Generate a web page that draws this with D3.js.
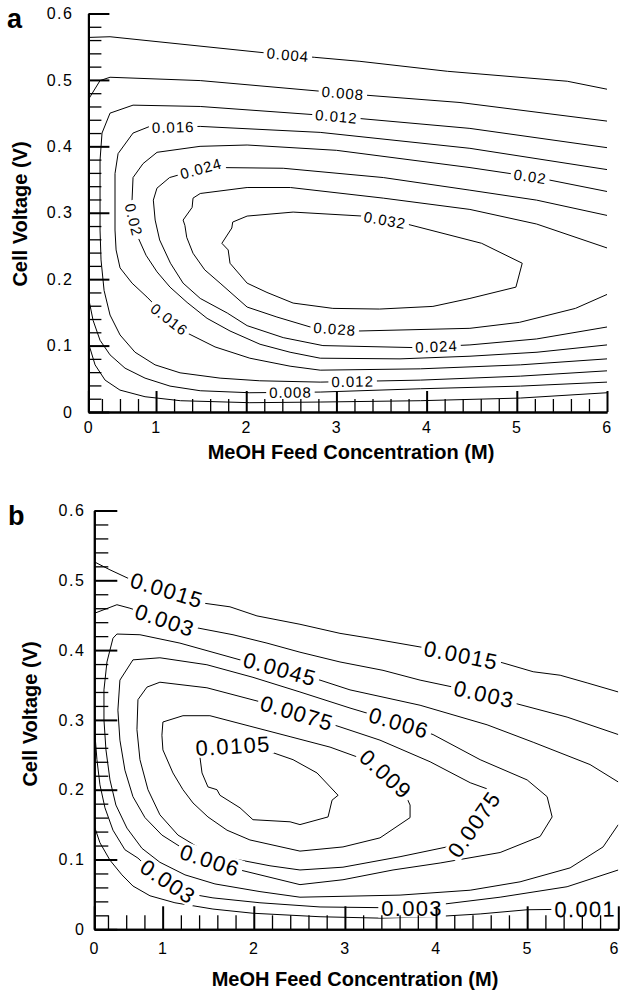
<!DOCTYPE html>
<html><head><meta charset="utf-8">
<script src="https://cdn.jsdelivr.net/npm/d3@7"></script>
<style>
body{margin:0;background:#fff}
svg{display:block}
text{font-family:"Liberation Sans",Arial,Helvetica,sans-serif}
</style>
</head><body>
<svg id="chart" width="622" height="990"></svg>
<script>
// ---------------- shared axis data ----------------
const xDomain = [0.25, 6];
const yDomain = [0, 0.6];
const xTickValues = [0, 1, 2, 3, 4, 5, 6];
const xTickLabels = ["0", "1", "2", "3", "4", "5", "6"];
const yTickValues = [0, 0.1, 0.2, 0.3, 0.4, 0.5, 0.6];
const yTickLabels = ["0", "0.1", "0.2", "0.3", "0.4", "0.5", "0.6"];
const xTitle = "MeOH Feed Concentration (M)";
const yTitle = "Cell Voltage (V)";

// ---------------- panel a: contour lines [conc (M), voltage (V)] ----------------
const a004Top = [[0.257,0.564],[0.49,0.565],[2.19,0.541],[2.76,0.534],[3.26,0.528],[4.23,0.513],[5.56,0.498],[6.0,0.486]];
const a004Bottom = [[0.257,0.101],[0.324,0.071],[0.435,0.048],[0.60,0.033],[0.878,0.023],[1.27,0.017],[2.04,0.014],[2.82,0.015],[3.93,0.017],[5.04,0.021],[6.0,0.029]];
const a008Top = [[0.257,0.472],[0.379,0.499],[0.49,0.504],[1.49,0.499],[2.82,0.483],[3.33,0.477],[4.37,0.466],[6.0,0.438]];
const a008Bottom = [[0.257,0.168],[0.302,0.138],[0.379,0.108],[0.49,0.086],[0.656,0.066],[0.878,0.051],[1.155,0.039],[1.49,0.032],[2.04,0.029],[2.82,0.030],[3.93,0.035],[5.04,0.039],[6.0,0.045]];
const a012 = [[6.0,0.398],[4.48,0.427],[3.0,0.445],[2.82,0.447],[1.49,0.460],[0.745,0.462],[0.49,0.450],[0.401,0.420],[0.379,0.379],[0.379,0.274],[0.39,0.229],[0.424,0.183],[0.49,0.146],[0.601,0.116],[0.767,0.090],[0.989,0.071],[1.266,0.059],[1.71,0.051],[2.15,0.047],[2.82,0.045],[3.93,0.048],[5.04,0.054],[6.0,0.062]];
const a016 = [[6.0,0.365],[4.48,0.397],[2.82,0.421],[1.49,0.430],[1.19,0.429],[0.967,0.432],[0.745,0.420],[0.579,0.389],[0.545,0.359],[0.545,0.274],[0.557,0.244],[0.601,0.217],[0.734,0.194],[0.90,0.173],[1.133,0.141],[1.344,0.119],[1.654,0.098],[2.04,0.081],[2.486,0.069],[2.82,0.063],[3.93,0.065],[5.04,0.071],[6.0,0.080]];
const a020 = [[6.0,0.332],[5.224,0.353],[4.481,0.368],[3.0,0.394],[2.01,0.402],[1.488,0.400],[1.011,0.391],[0.856,0.374],[0.745,0.353],[0.734,0.319],[0.745,0.293],[0.80,0.263],[0.889,0.236],[1.011,0.211],[1.155,0.188],[1.344,0.165],[1.566,0.141],[1.82,0.122],[2.153,0.102],[2.486,0.090],[2.82,0.081],[3.705,0.080],[4.481,0.084],[5.224,0.090],[6.0,0.101]];
const a024 = [[6.00,0.296],[5.22,0.319],[4.48,0.334],[3.52,0.353],[2.41,0.367],[1.73,0.368],[1.51,0.367],[1.15,0.353],[1.01,0.337],[0.97,0.319],[0.99,0.289],[1.04,0.259],[1.16,0.224],[1.30,0.194],[1.49,0.171],[1.79,0.149],[2.01,0.130],[2.41,0.112],[2.85,0.100],[3.85,0.097],[4.48,0.101],[5.22,0.110],[6.00,0.128]];
const a028 = [[6.00,0.247],[5.22,0.283],[4.48,0.305],[3.52,0.322],[2.49,0.338],[2.01,0.338],[1.49,0.329],[1.41,0.322],[1.40,0.308],[1.30,0.289],[1.32,0.281],[1.34,0.263],[1.41,0.239],[1.54,0.214],[1.71,0.194],[2.01,0.158],[2.34,0.143],[2.71,0.128],[3.26,0.122],[4.48,0.126],[5.03,0.135],[5.65,0.156],[6.00,0.177]];
const a032 = [[3.78,0.283],[4.61,0.254],[5.06,0.224],[4.99,0.188],[4.48,0.171],[4.07,0.159],[3.48,0.155],[2.96,0.156],[2.52,0.164],[2.23,0.180],[2.01,0.194],[1.82,0.224],[1.80,0.244],[1.73,0.254],[1.84,0.277],[1.85,0.286],[2.01,0.295],[2.52,0.301],[3.29,0.295]];
// [text, level, conc, voltage]
const aLabels = [
  ["0.004",0.004,2.46,0.535],["0.008",0.008,3.07,0.478],["0.012",0.012,3.0,0.445],
  ["0.016",0.016,1.19,0.429],["0.024",0.024,1.50,0.366],["0.02",0.020,5.15,0.356],
  ["0.032",0.032,3.54,0.290],["0.02",0.020,0.745,0.289],["0.016",0.016,1.133,0.137],
  ["0.028",0.028,2.98,0.123],["0.024",0.024,4.11,0.098],["0.012",0.012,3.18,0.044],
  ["0.008",0.008,2.49,0.030]];

// ---------------- panel b ----------------
const b0015Top = [[0.257,0.526],[0.422,0.515],[0.619,0.503],[1.047,0.486],[1.464,0.467],[1.739,0.462],[2.035,0.449],[2.507,0.437],[2.946,0.424],[3.276,0.417],[3.847,0.404],[4.276,0.393],[4.725,0.382],[5.066,0.369],[5.362,0.364],[5.658,0.353],[6.0,0.340]];
const b0015Bottom = [[0.257,0.145],[0.312,0.124],[0.422,0.099],[0.553,0.078],[0.674,0.062],[0.861,0.048],[1.135,0.038],[1.552,0.029],[1.991,0.023],[2.727,0.018],[3.385,0.016],[3.967,0.018],[4.484,0.022],[5.0,0.028],[5.636,0.029],[6.0,0.033]];
const b003Top = [[0.257,0.453],[0.498,0.465],[0.641,0.460],[1.025,0.443],[1.333,0.433],[1.772,0.422],[2.145,0.410],[2.507,0.397],[2.946,0.383],[3.418,0.371],[3.825,0.357],[4.188,0.347],[4.528,0.337],[4.889,0.323],[5.438,0.304],[6.0,0.279]];
const b003Bottom = [[0.257,0.279],[0.279,0.243],[0.312,0.207],[0.367,0.174],[0.455,0.142],[0.586,0.114],[0.729,0.102],[0.861,0.086],[1.245,0.052],[1.552,0.045],[2.068,0.038],[2.727,0.032],[3.385,0.031],[3.737,0.031],[4.078,0.036],[4.703,0.046],[5.438,0.061],[6.0,0.085]];
const b0045 = [[6.0,0.211],[5.69,0.236],[5.066,0.268],[4.56,0.293],[3.825,0.321],[3.056,0.343],[2.727,0.357],[2.288,0.373],[1.849,0.386],[1.19,0.410],[0.751,0.422],[0.498,0.423],[0.455,0.417],[0.389,0.383],[0.356,0.343],[0.356,0.300],[0.378,0.257],[0.422,0.214],[0.487,0.178],[0.608,0.145],[0.773,0.116],[0.97,0.096],[1.245,0.078],[1.574,0.065],[2.068,0.054],[2.507,0.046],[3.605,0.049],[4.375,0.056],[4.922,0.068],[5.471,0.088],[5.833,0.118],[6.0,0.150]];
const b006 = [[0.531,0.357],[0.674,0.386],[0.97,0.389],[1.486,0.379],[1.991,0.361],[2.507,0.340],[3.056,0.317],[3.594,0.296],[3.967,0.279],[4.484,0.243],[5.0,0.214],[5.219,0.190],[5.274,0.161],[5.142,0.133],[4.703,0.110],[4.045,0.095],[3.528,0.085],[2.979,0.071],[2.507,0.064],[1.849,0.085],[1.519,0.099],[1.245,0.114],[0.992,0.135],[0.806,0.160],[0.674,0.190],[0.586,0.228],[0.531,0.271],[0.509,0.314]];
const b0075 = [[0.729,0.329],[0.828,0.347],[0.97,0.354],[1.486,0.346],[2.068,0.326],[2.475,0.310],[2.946,0.290],[3.385,0.271],[3.935,0.240],[4.375,0.210],[4.67,0.196],[4.52,0.170],[4.36,0.140],[4.12,0.118],[3.605,0.104],[2.979,0.089],[2.507,0.085],[2.178,0.091],[1.739,0.102],[1.409,0.116],[1.168,0.135],[0.97,0.164],[0.839,0.200],[0.751,0.243],[0.718,0.286]];
const b009 = [[1.003,0.297],[1.223,0.306],[1.519,0.306],[1.958,0.291],[2.398,0.276],[2.837,0.261],[3.133,0.247],[3.418,0.226],[3.638,0.200],[3.715,0.178],[3.715,0.160],[3.385,0.131],[2.979,0.118],[2.507,0.112],[1.958,0.128],[1.706,0.142],[1.497,0.161],[1.333,0.181],[1.223,0.200],[1.113,0.224],[1.003,0.257],[0.992,0.278]];
const b0105 = [[1.409,0.260],[1.794,0.263],[2.211,0.253],[2.431,0.243],[2.694,0.224],[2.925,0.192],[2.859,0.185],[2.815,0.161],[2.507,0.150],[2.398,0.154],[1.991,0.157],[1.849,0.174],[1.629,0.192],[1.596,0.200],[1.497,0.204],[1.432,0.224],[1.409,0.247]];
const bLabels = [
  ["0.0015",0.0015,1.047,0.486],["0.003",0.003,1.025,0.443],["0.0045",0.0045,2.288,0.373],
  ["0.0075",0.0075,2.475,0.310],["0.006",0.006,3.594,0.296],["0.0015",0.0015,4.276,0.393],
  ["0.003",0.003,4.528,0.337],["0.0105",0.0105,1.772,0.262],["0.009",0.009,3.418,0.218],
  ["0.0075",0.0075,4.40,0.152],["0.006",0.006,1.519,0.099],["0.003",0.003,1.058,0.068],
  ["0.003",0.003,3.737,0.031],["0.001",0.0015,5.636,0.029]];

const aLines = [
  {level:0.004, pts:a004Top},{level:0.004, pts:a004Bottom},
  {level:0.008, pts:a008Top},{level:0.008, pts:a008Bottom},
  {level:0.012, pts:a012},{level:0.016, pts:a016},{level:0.020, pts:a020},
  {level:0.024, pts:a024},{level:0.028, pts:a028},{level:0.032, pts:a032, closed:true}];
const bLines = [
  {level:0.0015, pts:b0015Top},{level:0.0015, pts:b0015Bottom},
  {level:0.003, pts:b003Top},{level:0.003, pts:b003Bottom},
  {level:0.0045, pts:b0045},
  {level:0.006, pts:b006, closed:true},{level:0.0075, pts:b0075, closed:true},
  {level:0.009, pts:b009, closed:true},{level:0.0105, pts:b0105, closed:true}];

const svg = d3.select("#chart");
const FONT = '"Liberation Sans",Arial,Helvetica,sans-serif';

function drawPanel(o) {
  const x = d3.scaleLinear().domain(xDomain).range(o.xr).clamp(true);
  const y = d3.scaleLinear().domain(yDomain).range(o.yr);
  const g = svg.append("g");
  const clipId = "clip" + o.id;
  svg.append("clipPath").attr("id", clipId).append("rect")
    .attr("x", o.xr[0]).attr("y", o.yr[1])
    .attr("width", o.xr[1] - o.xr[0]).attr("height", o.yr[0] - o.yr[1]);
  const cg = g.append("g").attr("clip-path", `url(#${clipId})`);
  const lineOpen = d3.line().x(d => x(d[0])).y(d => y(d[1]));
  const lineClosed = d3.line().x(d => x(d[0])).y(d => y(d[1])).curve(d3.curveLinearClosed);
  cg.selectAll("path.c").data(o.lines).join("path").attr("class", "c")
    .attr("d", d => (d.closed ? lineClosed : lineOpen)(d.pts))
    .attr("fill", "none").attr("stroke", "#000").attr("stroke-width", 1)
    .attr("stroke-linejoin", "round");

  // labels, placed on their contour line
  o.labels.forEach(([txt, lev, lx, ly]) => {
    const px = x(lx), py = y(ly);
    let best = {d: Infinity};
    o.lines.filter(l => Math.abs(l.level - lev) < 1e-9).forEach(l => {
      const P = l.pts.map(p => [x(p[0]), y(p[1])]);
      const n = l.closed ? P.length : P.length - 1;
      for (let i = 0; i < n; i++) {
        const a = P[i], b = P[(i + 1) % P.length];
        const dx = b[0] - a[0], dy = b[1] - a[1];
        const L2 = dx * dx + dy * dy;
        let t = L2 ? ((px - a[0]) * dx + (py - a[1]) * dy) / L2 : 0;
        t = Math.max(0, Math.min(1, t));
        const qx = a[0] + t * dx, qy = a[1] + t * dy;
        const d = Math.hypot(px - qx, py - qy);
        if (d < best.d) best = {d, qx, qy, ang: Math.atan2(dy, dx) * 180 / Math.PI};
      }
    });
    let ang = best.ang;
    if (ang > 90) ang -= 180;
    if (ang < -90) ang += 180;
    const lg = cg.append("g").attr("transform", `translate(${best.qx},${best.qy}) rotate(${ang})`);
    const rect = lg.append("rect").attr("fill", "#fff");
    const t = lg.append("text").text(txt)
      .attr("text-anchor", "middle").attr("dy", "0.36em")
      .attr("font-family", FONT).attr("font-size", o.labelSize)
      .style("letter-spacing", o.labelSpacing + "px");
    const bb = t.node().getBBox();
    const h = o.labelSize * 0.72 + 4;
    rect.attr("x", bb.x - 3).attr("width", bb.width + 6).attr("y", -h / 2).attr("height", h);
  });

  // axes
  const yMinor = d3.range(1, 30).map(i => i * 0.02).filter(v => Math.abs(v * 10 - Math.round(v * 10)) > 1e-6);
  const xMinor = d3.range(2, 30).map(i => i * 0.2).filter(v => Math.abs(v - Math.round(v)) > 1e-6);
  const styleAxis = (sel, w) => {
    sel.attr("font-size", o.tickSize).attr("font-family", FONT);
    sel.select(".domain").attr("stroke-width", 2);
    sel.selectAll(".tick line").attr("stroke-width", w);
    sel.selectAll(".tick text").attr("fill", "#000")
      .attr("font-size", o.tickSize).attr("font-family", FONT)
      .style("font-size", o.tickSize + "px")
      .style("letter-spacing", o.tickSpacing + "px");
  };
  g.append("g").attr("transform", `translate(${o.xr[0]},0)`)
    .call(d3.axisLeft(y).tickValues(yMinor).tickSizeInner(-o.minor).tickSizeOuter(0).tickFormat(""))
    .call(s => styleAxis(s, 1.3));
  g.append("g").attr("transform", `translate(0,${o.yr[0]})`)
    .call(d3.axisBottom(x).tickValues(xMinor).tickSizeInner(-o.minor).tickSizeOuter(0).tickFormat(""))
    .call(s => styleAxis(s, 1.3));
  g.append("g").attr("transform", `translate(${o.xr[0]},0)`)
    .call(d3.axisLeft(y).tickValues(yTickValues).tickSizeInner(-o.major).tickSizeOuter(0)
      .tickPadding(o.yPad).tickFormat((d, i) => yTickLabels[i]))
    .call(s => styleAxis(s, 2));
  const xa = g.append("g").attr("transform", `translate(0,${o.yr[0]})`)
    .call(d3.axisBottom(x).tickValues(xTickValues).tickSizeInner(-o.major).tickSizeOuter(0)
      .tickPadding(o.xPad).tickFormat((d, i) => xTickLabels[i]))
    .call(s => styleAxis(s, 2));
  // keep the last tick label inside the picture
  xa.selectAll(".tick text").each(function () {
    const tick = this.parentNode;
    const tx = +tick.getAttribute("transform").match(/translate\(([-\d.]+)/)[1];
    const w = this.getBBox().width;
    if (tx + w / 2 > 620) d3.select(this).attr("x", 620 - w / 2 - tx);
  });

  // titles
  g.append("text").attr("x", o.xTitle[0]).attr("y", o.xTitle[1]).attr("text-anchor", "middle")
    .attr("font-family", FONT).style("font-weight", "bold").style("font-size", "20px").text(xTitle);
  g.append("text").attr("transform", `translate(${o.yTitle[0]},${o.yTitle[1]}) rotate(-90)`)
    .attr("text-anchor", "middle").attr("font-family", FONT)
    .style("font-weight", "bold").style("font-size", "20px").text(yTitle);
  g.append("text").attr("x", o.letter[0]).attr("y", o.letter[1]).attr("font-family", FONT)
    .style("font-weight", "bold").style("font-size", "27px").text(o.id);
}

drawPanel({id: "a", xr: [88.4, 607], yr: [412, 13.5], lines: aLines, labels: aLabels,
  labelSize: 15, labelSpacing: 1, major: 21, minor: 13, yPad: 15, xPad: 10,
  tickSize: 16, tickSpacing: 1.5, xTitle: [351, 459], yTitle: [27, 214], letter: [7, 28]});
drawPanel({id: "b", xr: [94.3, 618.3], yr: [929.3, 510.5], lines: bLines, labels: bLabels,
  labelSize: 22, labelSpacing: 1.3, major: 23, minor: 14, yPad: 9, xPad: 13,
  tickSize: 16, tickSpacing: 1.5, xTitle: [355, 986], yTitle: [37, 714], letter: [8, 525]});
</script>
</body></html>
